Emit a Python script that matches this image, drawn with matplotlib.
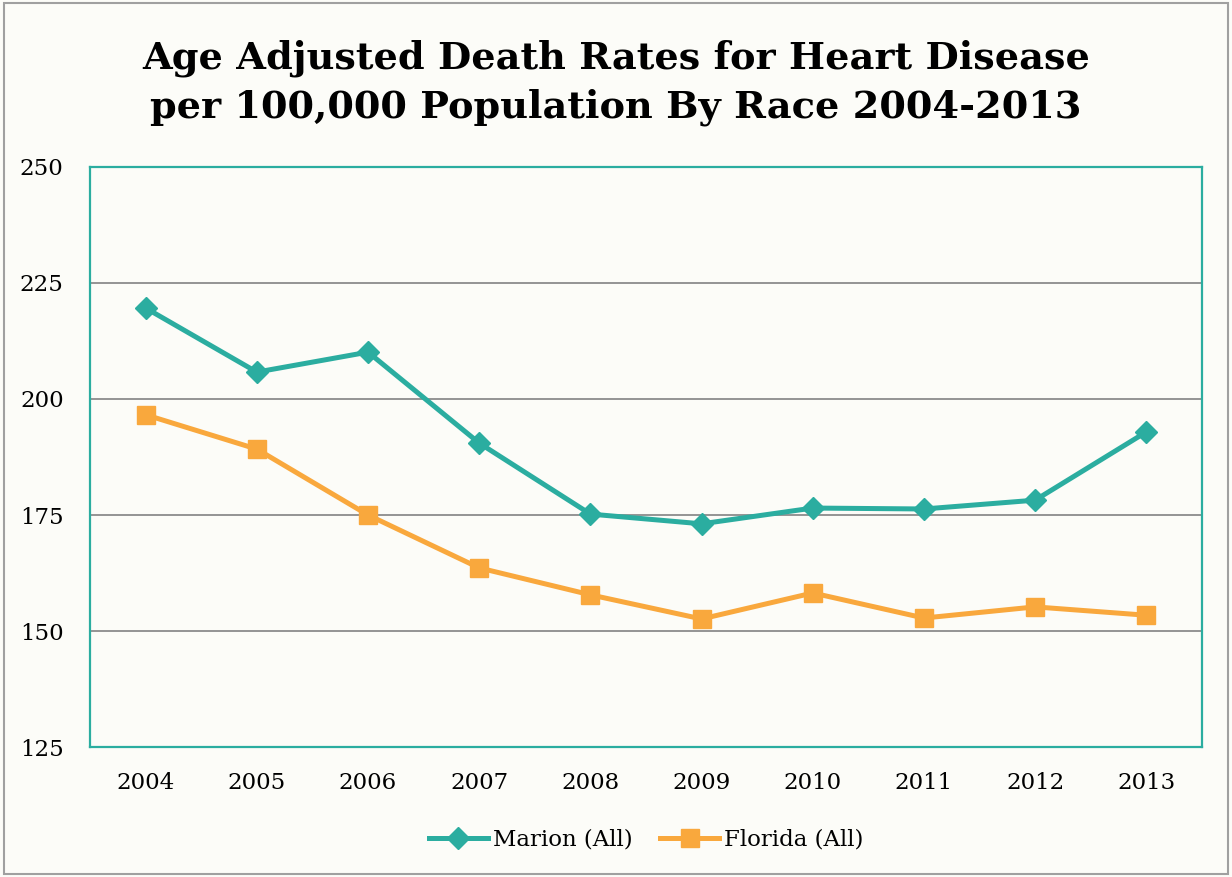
import matplotlib.pyplot as plt
from matplotlib.patches import Rectangle

years = ['2004', '2005', '2006', '2007', '2008', '2009', '2010', '2011', '2012', '2013']
marion = [219.6, 205.8, 210.1, 190.5, 175.2, 173.1, 176.5, 176.3, 178.2, 192.9]
florida = [196.6, 189.2, 175.0, 163.6, 157.8, 152.6, 158.2, 152.8, 155.2, 153.4]
yticks = [125, 150, 175, 200, 225, 250]

teal = '#2BADA0'
orange = '#F9A83D'
bg = '#FCFCF8'

plt.rcParams['font.family'] = ['DejaVu Serif']

fig = plt.figure(figsize=(12.32, 8.77), dpi=100, facecolor=bg)
ax = fig.add_axes([0.0731, 0.1482, 0.9025, 0.6614], facecolor=bg)

x = range(len(years))
ax.plot(x, marion, color=teal, lw=3.6, marker='D', ms=11, label='Marion (All)')
ax.plot(x, florida, color=orange, lw=3.6, marker='s', ms=13, label='Florida (All)')

ax.set_xlim(-0.5, len(years) - 0.5)
ax.set_ylim(125, 250)
ax.set_yticks(yticks)
ax.set_xticks(list(x))
ax.set_xticklabels(years)
ax.tick_params(axis='both', length=0, labelsize=16.5, colors='black')
ax.tick_params(axis='y', pad=19)
ax.tick_params(axis='x', pad=18)
ax.grid(axis='y', color='#8C8C8C', lw=1.3)
ax.set_axisbelow(True)
for s in ax.spines.values():
    s.set_color(teal)
    s.set_linewidth(1.6)

fig.suptitle('Age Adjusted Death Rates for Heart Disease\nper 100,000 Population By Race 2004-2013',
             y=0.955, fontsize=27.5, fontweight='bold', linespacing=1.4)

ax.legend(loc='upper center', bbox_to_anchor=(0.5, -0.105), ncol=2, frameon=False,
          fontsize=16.5, handlelength=2.6, columnspacing=1.2, handletextpad=0.2)

fig.patches.append(Rectangle((0.003, 0.003), 0.994, 0.994, transform=fig.transFigure,
                             fill=False, edgecolor='#A0A0A0', lw=1.5))

fig.savefig('out.png', dpi=100, facecolor=bg)
